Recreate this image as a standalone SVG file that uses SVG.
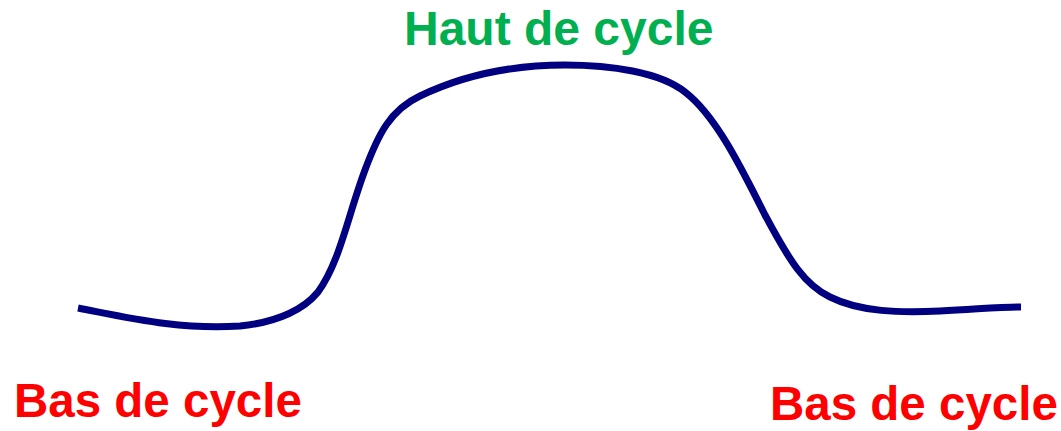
<svg xmlns="http://www.w3.org/2000/svg" width="1061" height="431" viewBox="0 0 1061 431">
<style>
.lbl{font-family:"Liberation Sans",Arial,sans-serif;font-weight:bold}
.bas{fill:#FF0000;font-size:47.5px}
.haut{fill:#00B050;font-size:48px}
.curve{fill:none;stroke:#000080;stroke-width:7;stroke-linecap:butt}
</style>
<rect width="1061" height="431" fill="#FFFFFF"/>
<g id="connectors">
<path class="curve" d="M78,308 C130,318 180,330 240,326 C280,322 305,308 318,292 C340,262 348,215 365,170 C378,135 390,110 420,96 C470,72 520,65 565,65 C610,65 660,72 685,92 C715,115 740,165 765,215 C790,262 805,285 830,297 C860,312 900,313 940,311 C980,309 1000,307 1021,307"/>
</g>
<g id="haut"><text class="lbl haut" x="404" y="44.5">Haut de cycle</text></g>
<g id="bas-left"><text class="lbl bas" x="14" y="417">Bas de cycle</text></g>
<g id="bas-right"><text class="lbl bas" x="770" y="420">Bas de cycle</text></g>
</svg>
